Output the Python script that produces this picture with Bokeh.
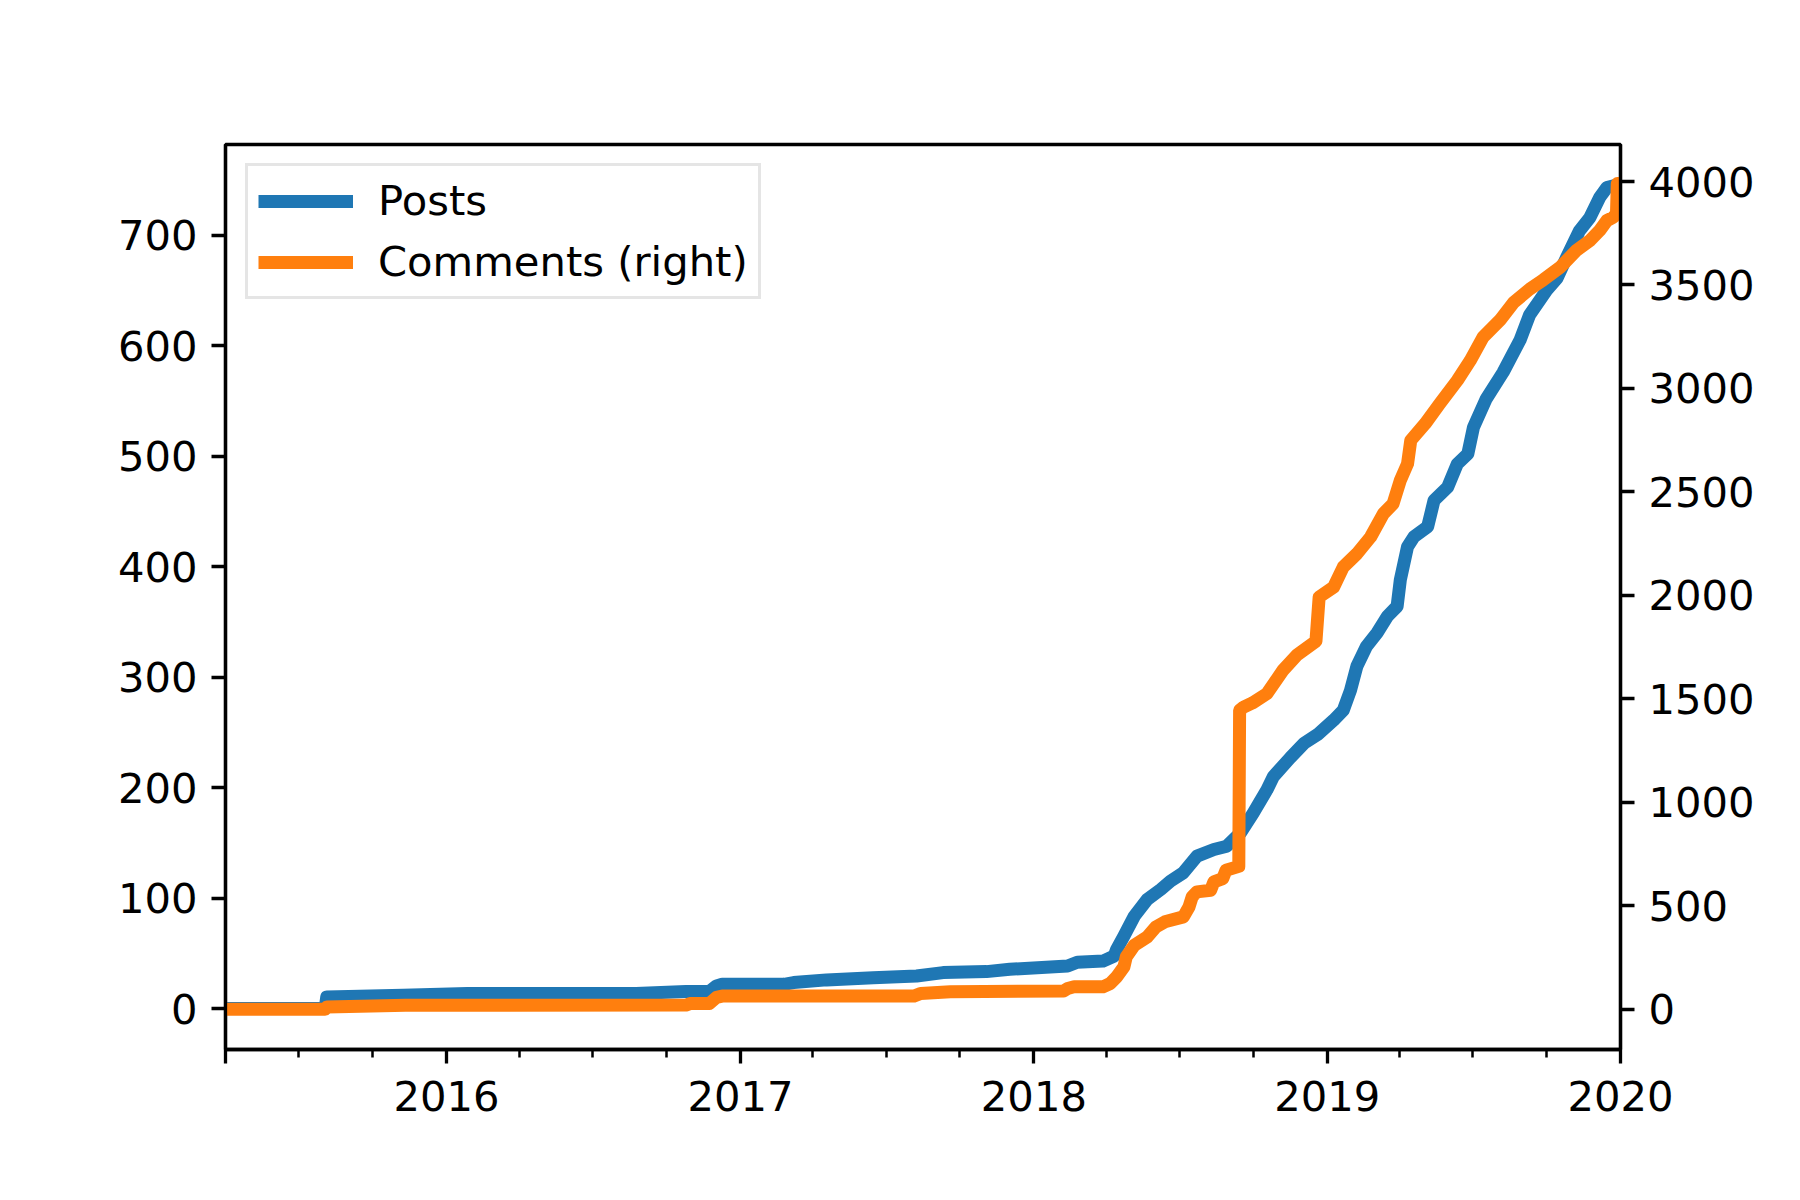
import pandas as pd
from bokeh.plotting import figure
from bokeh.models import (Range1d, LinearAxis, FixedTicker, Legend, LegendItem,
                          ColumnDataSource)
from bokeh.embed import file_html
from bokeh.resources import INLINE

# ---------------- data ----------------
post_dates = [
    "2015-04-01", "2015-08-03", "2015-08-05", "2015-11-08", "2016-01-27",
    "2016-08-24", "2016-10-25", "2016-11-23", "2016-12-02", "2016-12-09",
    "2017-02-24", "2017-03-08", "2017-04-18", "2017-06-15", "2017-08-08",
    "2017-09-10", "2017-11-03", "2017-12-02", "2018-02-12", "2018-02-24",
    "2018-03-28", "2018-04-11", "2018-04-14", "2018-04-23", "2018-05-06",
    "2018-05-22", "2018-06-08", "2018-06-20", "2018-07-06", "2018-07-23",
    "2018-08-13", "2018-08-29", "2018-09-15", "2018-10-01", "2018-10-18",
    "2018-10-26", "2018-11-16", "2018-12-03", "2018-12-20", "2019-01-09",
    "2019-01-21", "2019-01-30", "2019-02-07", "2019-02-19", "2019-03-04",
    "2019-03-17", "2019-03-29", "2019-04-02", "2019-04-11", "2019-04-19",
    "2019-05-06", "2019-05-14", "2019-05-31", "2019-06-12", "2019-06-25",
    "2019-07-02", "2019-07-18", "2019-08-08", "2019-08-29", "2019-09-10",
    "2019-10-01", "2019-10-14", "2019-10-26", "2019-11-11", "2019-11-24",
    "2019-12-06", "2019-12-15", "2019-12-31",
]
post_counts = [
    0, 0, 10.6, 12, 13.6,
    13.6, 15.4, 15.4, 20.5, 22,
    22, 23.6, 26, 28, 29.5,
    32.6, 33.5, 35.6, 38.6, 42,
    43, 47.6, 53.7, 65.7, 83.7,
    98.8, 107.9, 115.4, 123, 138,
    144, 147, 159, 177, 198,
    210, 227, 240, 248, 261,
    270, 288, 310, 328, 340,
    355, 364, 388, 418, 427,
    436, 460, 472, 493, 502,
    526, 552, 576, 605, 628,
    650, 661, 680, 704, 716,
    734, 743, 746,
]

comment_dates = [
    "2015-04-01", "2015-08-03", "2015-08-05", "2015-11-11", "2016-10-25",
    "2016-10-30", "2016-11-23", "2016-12-02", "2016-12-09", "2017-08-05",
    "2017-08-13", "2017-09-19", "2018-02-07", "2018-02-12", "2018-02-20",
    "2018-03-28", "2018-04-06", "2018-04-14", "2018-04-23", "2018-04-26",
    "2018-05-06", "2018-05-22", "2018-06-02", "2018-06-13", "2018-07-06",
    "2018-07-13", "2018-07-17", "2018-07-23", "2018-08-09", "2018-08-13",
    "2018-08-24", "2018-08-28", "2018-09-13", "2018-09-14", "2018-09-19",
    "2018-09-30", "2018-10-18", "2018-11-07", "2018-11-24", "2018-12-18",
    "2018-12-22", "2019-01-09", "2019-01-21", "2019-02-07", "2019-02-24",
    "2019-03-12", "2019-03-24", "2019-04-02", "2019-04-11", "2019-04-15",
    "2019-05-03", "2019-05-21", "2019-06-12", "2019-06-28", "2019-07-14",
    "2019-08-04", "2019-08-21", "2019-09-10", "2019-09-27", "2019-10-18",
    "2019-11-07", "2019-11-24", "2019-12-06", "2019-12-15", "2019-12-23",
    "2019-12-27", "2019-12-28", "2019-12-31",
]
comment_counts = [
    0, 0, 11, 19, 20,
    27, 27, 57, 63, 63,
    76, 84, 88, 100, 108,
    108, 124, 156, 204, 253,
    309, 349, 398, 422, 446,
    494, 543, 567, 575, 615,
    631, 671, 690, 1444, 1460,
    1480, 1525, 1638, 1710, 1778,
    1992, 2040, 2137, 2201, 2282,
    2395, 2443, 2556, 2636, 2749,
    2830, 2926, 3039, 3135, 3248,
    3330, 3415, 3480, 3525, 3586,
    3667, 3715, 3763, 3811, 3827,
    3845, 3990, 3990,
]

left_ticks = [0, 100, 200, 300, 400, 500, 600, 700]
right_ticks = [0, 500, 1000, 1500, 2000, 2500, 3000, 3500, 4000]
year_labels = ["2016", "2017", "2018", "2019", "2020"]
x_start = "2015-04-01"
x_end = "2020-01-01"
quarter_ticks = [
    "2015-07-01", "2015-10-01", "2016-04-01", "2016-07-01", "2016-10-01",
    "2017-04-01", "2017-07-01", "2017-10-01", "2018-04-01", "2018-07-01",
    "2018-10-01", "2019-04-01", "2019-07-01", "2019-10-01",
]


def ms(s):
    return float(pd.Timestamp(s).value // 10**6)


FONT = "DejaVu Sans"
FS = "41.7px"
BLUE = "#1f77b4"
ORANGE = "#ff7f0e"

p = figure(width=1792, height=1192, x_axis_type="datetime",
           x_range=Range1d(ms(x_start), ms(x_end)),
           y_range=Range1d(-37, 782),
           output_backend="svg", toolbar_location=None,
           min_border_left=225, min_border_right=172,
           min_border_top=144, min_border_bottom=143)
p.extra_y_ranges = {"right": Range1d(-195, 4179)}
p.add_layout(LinearAxis(y_range_name="right"), "right")

p.xgrid.visible = False
p.ygrid.visible = False
p.background_fill_color = "white"
p.border_fill_color = "white"
p.outline_line_color = "black"
p.outline_line_width = 3.3

src_p = ColumnDataSource(dict(x=pd.to_datetime(post_dates), y=post_counts))
src_c = ColumnDataSource(dict(x=pd.to_datetime(comment_dates), y=comment_counts))

r1 = p.line("x", "y", source=src_p, line_color=BLUE, line_width=13,
            line_join="round")
r2 = p.line("x", "y", source=src_c, line_color=ORANGE, line_width=13,
            line_join="round", y_range_name="right")

major_x = [ms(x_start)] + [ms(y + "-01-01") for y in year_labels]
p.xaxis.ticker = FixedTicker(ticks=major_x,
                             minor_ticks=[ms(q) for q in quarter_ticks])
overrides = {ms(x_start): ""}
for y in year_labels:
    overrides[ms(y + "-01-01")] = y
p.xaxis.major_label_overrides = overrides

p.yaxis[0].ticker = FixedTicker(ticks=left_ticks, minor_ticks=[])
p.yaxis[1].ticker = FixedTicker(ticks=right_ticks, minor_ticks=[])

for ax in p.axis:
    ax.axis_line_color = "black"
    ax.axis_line_width = 3.3
    ax.major_tick_line_color = "black"
    ax.major_tick_line_width = 3.3
    ax.major_tick_in = 0
    ax.major_tick_out = 14
    ax.minor_tick_line_color = "black"
    ax.minor_tick_line_width = 2.5
    ax.minor_tick_in = 0
    ax.minor_tick_out = 8
    ax.major_label_text_font = FONT
    ax.major_label_text_font_size = FS
    ax.major_label_text_color = "black"
    ax.major_label_standoff = 14
for ax in p.yaxis:
    ax.minor_tick_line_color = None
p.xaxis.major_label_standoff = 17

legend = Legend(items=[LegendItem(label="Posts", renderers=[r1]),
                       LegendItem(label="Comments (right)", renderers=[r2])],
                location=(20, 750))
legend.label_text_font = FONT
legend.label_text_font_size = FS
legend.label_text_color = "black"
legend.glyph_width = 95
legend.glyph_height = 42
legend.label_height = 42
legend.label_standoff = 25
legend.spacing = 12
legend.padding = 10
legend.margin = 0
legend.border_line_color = "#cccccc"
legend.border_line_width = 3.3
legend.background_fill_color = "white"
legend.background_fill_alpha = 0.8
p.add_layout(legend)

open("out.html", "w").write(file_html(p, INLINE))
